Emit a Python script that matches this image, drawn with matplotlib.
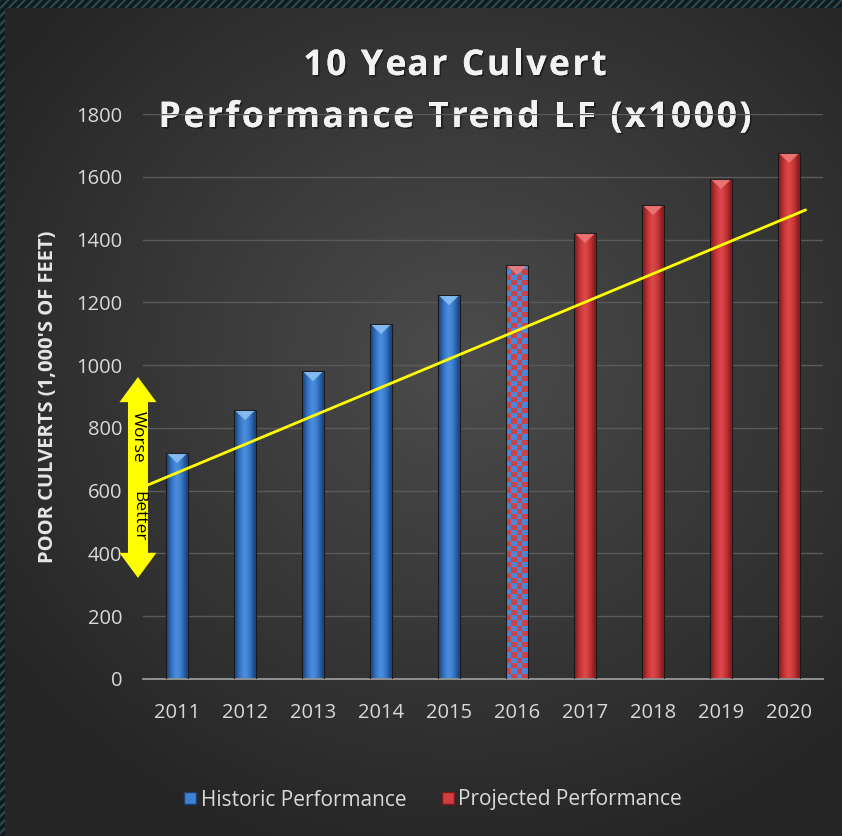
import numpy as np
import matplotlib
matplotlib.use("Agg")
import matplotlib.pyplot as plt
from matplotlib.patches import Polygon, Rectangle
from matplotlib.lines import Line2D
from matplotlib.font_manager import FontProperties
from matplotlib.textpath import text_to_path
import matplotlib.patheffects as pe

plt.rcParams['font.family'] = ['Open Sans', 'DejaVu Sans']
plt.rcParams['hatch.color'] = '#2c4a55'
plt.rcParams['hatch.linewidth'] = 1.5

# ---- data ----
years = ['2011', '2012', '2013', '2014', '2015', '2016', '2017', '2018', '2019', '2020']
values = [720, 857, 981, 1131, 1223, 1319, 1421, 1510, 1593, 1676]
kind = ['hist', 'hist', 'hist', 'hist', 'hist', 'mixed', 'proj', 'proj', 'proj', 'proj']
trend_x = [-0.43, 9.24]
trend_y = [618, 1494]
yticks = [0, 200, 400, 600, 800, 1000, 1200, 1400, 1600, 1800]
title_lines = ["10 Year Culvert", "Performance Trend LF (x1000)"]
ylabel = "POOR CULVERTS (1,000'S OF FEET)"
legend_labels = ['Historic Performance', 'Projected Performance']

W, H = 842, 836
fig = plt.figure(figsize=(W / 100, H / 100), dpi=100)

# background radial gradient
bg = fig.add_axes([0, 0, 1, 1])
bg.set_axis_off()
yy, xx = np.mgrid[0:H, 0:W]
r = np.sqrt(((xx - 460) / 560.0) ** 2 + ((yy - 360) / 520.0) ** 2)
r = np.clip(r, 0, 1)
c0 = np.array([0x4c, 0x4c, 0x4c]) / 255
c1 = np.array([0x25, 0x25, 0x25]) / 255
img = c0[None, None, :] * (1 - r[..., None]) + c1[None, None, :] * r[..., None]
bg.imshow(img, extent=(0, W, H, 0), aspect='auto')
for (x0, y0, w, h) in [(0, 0, W, 8), (0, 0, 5, H)]:
    bg.add_patch(Rectangle((x0, y0), w, h, facecolor='#121a1e', edgecolor='none'))
    bg.add_patch(Rectangle((x0, y0), w, h, facecolor='none', edgecolor='#2c4a55',
                           hatch='////', linewidth=0))
bg.set_xlim(0, W)
bg.set_ylim(H, 0)

ax = fig.add_axes([143 / W, 1 - 679 / H, 680 / W, 565 / H])
ax.set_facecolor('none')
xs = np.arange(len(years))
bw = 0.32

blue_grad = ['#1d4a86', '#2f6ab5', '#3f82d2', '#4a8fdc', '#3f82d2', '#2f6ab5', '#1d4a86']
red_grad = ['#8a1e20', '#b52f31', '#d23d3f', '#dc4a4b', '#d23d3f', '#b52f31', '#8a1e20']


def rgb(hexes):
    return np.array([matplotlib.colors.to_rgb(h) for h in hexes])[None, :, :]


for i, (x, v, k) in enumerate(zip(xs, values, kind)):
    b = ax.bar(x, v, width=bw, color='none', edgecolor='#1a1a1a', linewidth=0.8, zorder=3)[0]
    if k == 'mixed':
        ncol = 4
        nrow = int(round(v / 17.0))
        chk = (np.add.outer(np.arange(nrow), np.arange(ncol)) % 2)
        cb = np.array(matplotlib.colors.to_rgb('#4b87d6'))
        cr = np.array(matplotlib.colors.to_rgb('#c9444a'))
        arr = np.where(chk[..., None] == 0, cb, cr)
        im = ax.imshow(arr, extent=(x - bw / 2, x + bw / 2, 0, v), aspect='auto',
                       interpolation='nearest', zorder=2, origin='lower')
        topc = '#f08080'
    else:
        g = blue_grad if k == 'hist' else red_grad
        im = ax.imshow(rgb(g), extent=(x - bw / 2, x + bw / 2, 0, v), aspect='auto',
                       interpolation='bilinear', zorder=2)
        topc = '#8ec4f5' if k == 'hist' else '#f07a7a'
    im.set_clip_path(b)
    tri = Polygon([[x - bw / 2 + 0.02, v - 3], [x + bw / 2 - 0.02, v - 3], [x, v - 32]],
                  closed=True, facecolor=topc, edgecolor='none', alpha=0.85, zorder=3)
    ax.add_patch(tri)

ax.set_xlim(-0.5, len(years) - 0.5)
ax.set_ylim(0, 1800)
ax.set_yticks(yticks)
ax.set_xticks(xs)
ax.set_xticklabels(years)
ax.grid(axis='y', color='#5a5a5a', linewidth=1.0, zorder=0)
ax.set_axisbelow(True)
for s in ['top', 'right', 'left']:
    ax.spines[s].set_visible(False)
ax.spines['bottom'].set_color('#9a9a9a')
ax.spines['bottom'].set_linewidth(1.3)
ax.tick_params(axis='both', length=0, labelsize=14.5, colors='#d9d9d9')
ax.tick_params(axis='y', pad=15)
ax.tick_params(axis='x', pad=17)

# trend line
ax.plot(trend_x, trend_y, color='#ffff00', linewidth=2, zorder=5, clip_on=False)

# Worse/Better arrow
acx = -0.574
sh = 0.147
hw = 0.272
ytop, ybot = 962, 322
hl = 80
arrow = Polygon([[acx, ytop], [acx + hw, ytop - hl], [acx + sh, ytop - hl],
                 [acx + sh, ybot + hl], [acx + hw, ybot + hl], [acx, ybot],
                 [acx - hw, ybot + hl], [acx - sh, ybot + hl], [acx - sh, ytop - hl],
                 [acx - hw, ytop - hl]], closed=True, facecolor='#ffff00',
                edgecolor='none', zorder=6, clip_on=False)
ax.add_patch(arrow)
ax.text(acx, 771, 'Worse', rotation=-90, ha='center', va='center', fontsize=12.5,
        color='black', zorder=7, clip_on=False)
ax.text(acx, 519, 'Better', rotation=-90, ha='center', va='center', fontsize=12.5,
        color='black', zorder=7, clip_on=False)

# title with letter spacing
tprop = FontProperties(family='Open Sans', weight='bold', size=25.5)
shadow = [pe.withSimplePatchShadow(offset=(1.2, -1.2), shadow_rgbFace='black', alpha=0.4),
          pe.Normal()]


def width_px(s):
    if not s:
        return 0.0
    w, h, d = text_to_path.get_text_width_height_descent(s, tprop, ismath=False)
    return w * 100 / 72.0


def spaced(line, xc, ybase, sp):
    total = width_px(line) + sp * (len(line) - 1)
    x0 = xc - total / 2
    for i, ch in enumerate(line):
        if ch == ' ':
            continue
        x = x0 + width_px(line[:i]) + sp * i
        bg.text(x, ybase, ch, fontproperties=tprop, color='#f2f2f2', ha='left',
                va='baseline', path_effects=shadow, zorder=10)


spaced(title_lines[0], 455, 75, 2.6)
spaced(title_lines[1], 455, 127, 2.6)

fig.text(48 / W, 1 - 397 / H, ylabel, rotation=90, ha='center', va='center',
         fontsize=14.5, fontweight='bold', color='#e6e6e6')

# legend
handles = [Line2D([], [], marker='s', linestyle='none', markersize=9,
                  markerfacecolor='#3f82d2', markeredgecolor='#1d3f70'),
           Line2D([], [], marker='s', linestyle='none', markersize=9,
                  markerfacecolor='#d23d3f', markeredgecolor='#7a1a1c')]
leg = fig.legend(handles, legend_labels, loc='center', bbox_to_anchor=(431 / W, 1 - 800 / H),
                 ncol=2, frameon=False, fontsize=15, labelcolor='#d9d9d9',
                 handletextpad=0.0, columnspacing=1.5, handlelength=1.0)

fig.savefig('out.png', dpi=100)
